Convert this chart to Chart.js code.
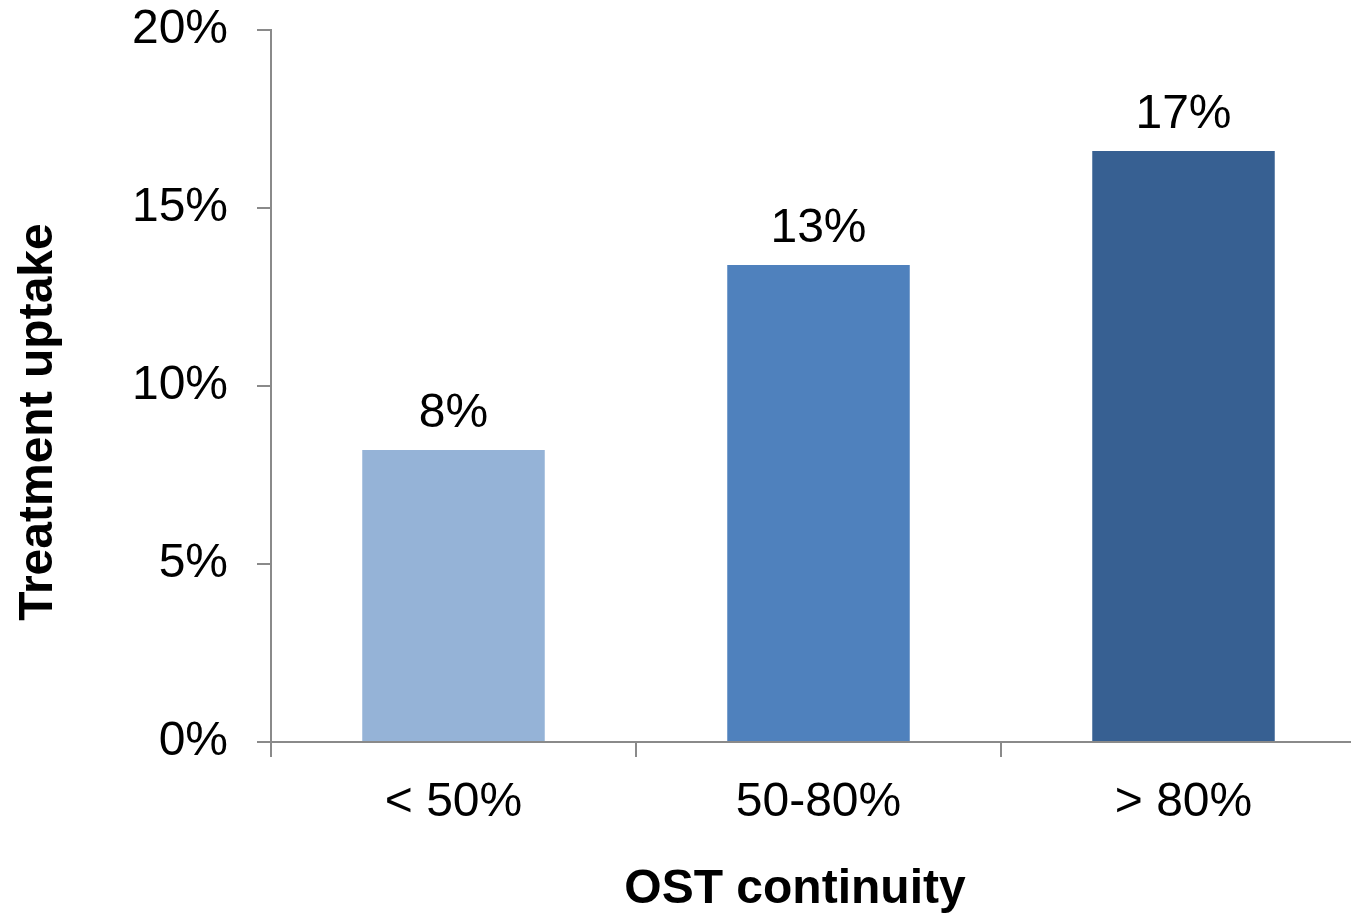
<!DOCTYPE html>
<html>
<head>
<meta charset="utf-8">
<script src="https://cdn.jsdelivr.net/npm/chart.js@4/dist/chart.umd.min.js"></script>
<style>
  html, body { margin: 0; padding: 0; background: #ffffff; overflow: hidden; }
  #wrap { position: relative; width: 1366px; height: 914px; }
</style>
</head>
<body>
<div id="wrap"><canvas id="chart" width="1366" height="914"></canvas></div>
<script>
// Treatment uptake by OST continuity band
const categories = ['< 50%', '50-80%', '> 80%'];
const uptake = [8.2, 13.4, 16.6];
const barColors = ['#95B3D7', '#4F81BD', '#376092'];
const yTicks = [0, 5, 10, 15, 20];
const xTitle = 'OST continuity';
const yTitle = 'Treatment uptake';

const FONT = '"Liberation Sans", Arial, sans-serif';
const AXIS = '#8a8a8a';

// Value labels above each bar, rounded to whole percentages
const valueLabels = {
  id: 'valueLabels',
  afterDatasetsDraw(chart) {
    const ctx = chart.ctx;
    const meta = chart.getDatasetMeta(0);
    ctx.save();
    ctx.font = '48px ' + FONT;
    ctx.fillStyle = '#000000';
    ctx.textAlign = 'center';
    ctx.textBaseline = 'alphabetic';
    meta.data.forEach((bar, i) => {
      const v = chart.data.datasets[0].data[i];
      ctx.fillText(Math.round(v) + '%', bar.x, bar.y - 23);
    });
    ctx.restore();
  }
};

// Bold axis titles
const axisTitles = {
  id: 'axisTitles',
  afterDraw(chart) {
    const ctx = chart.ctx;
    const a = chart.chartArea;
    ctx.save();
    ctx.font = 'bold 48px ' + FONT;
    ctx.fillStyle = '#000000';
    ctx.textAlign = 'center';
    ctx.textBaseline = 'alphabetic';
    ctx.fillText(xTitle, a.left + 524, a.bottom + 161);
    ctx.translate(a.left - 219, (a.top + a.bottom) / 2 + 36);
    ctx.rotate(-Math.PI / 2);
    ctx.fillText(yTitle, 0, 0);
    ctx.restore();
  }
};

new Chart(document.getElementById('chart'), {
  type: 'bar',
  data: {
    labels: categories,
    datasets: [{
      data: uptake,
      backgroundColor: barColors,
      borderWidth: 0,
      categoryPercentage: 1.0,
      barPercentage: 0.5
    }]
  },
  options: {
    responsive: false,
    animation: false,
    devicePixelRatio: 1,
    layout: { padding: { top: 30, right: 0, bottom: 0, left: 0 } },
    plugins: {
      legend: { display: false },
      tooltip: { enabled: false }
    },
    scales: {
      x: {
        offset: true,
        grid: {
          offset: true,
          drawOnChartArea: false,
          drawTicks: true,
          tickLength: 15,
          color: AXIS,
          lineWidth: 2
        },
        border: { color: AXIS, width: 2 },
        ticks: {
          color: '#000000',
          padding: 17,
          font: { family: FONT, size: 48 }
        },
        afterFit(scale) {
          scale.height = 172;
          scale.paddingLeft = 0;
          scale.paddingRight = 0;
        }
      },
      y: {
        min: 0,
        max: 20,
        afterBuildTicks(scale) { scale.ticks = yTicks.map(v => ({ value: v })); },
        grid: {
          drawOnChartArea: false,
          drawTicks: true,
          tickLength: 14,
          color: AXIS,
          lineWidth: 2
        },
        border: { color: AXIS, width: 2 },
        ticks: {
          color: '#000000',
          padding: 29,
          font: { family: FONT, size: 48 },
          callback: v => v + '%'
        },
        afterFit(scale) {
          scale.width = 271;
          scale.paddingTop = 0;
          scale.paddingBottom = 0;
        }
      }
    }
  },
  plugins: [valueLabels, axisTitles]
});
</script>
</body>
</html>
